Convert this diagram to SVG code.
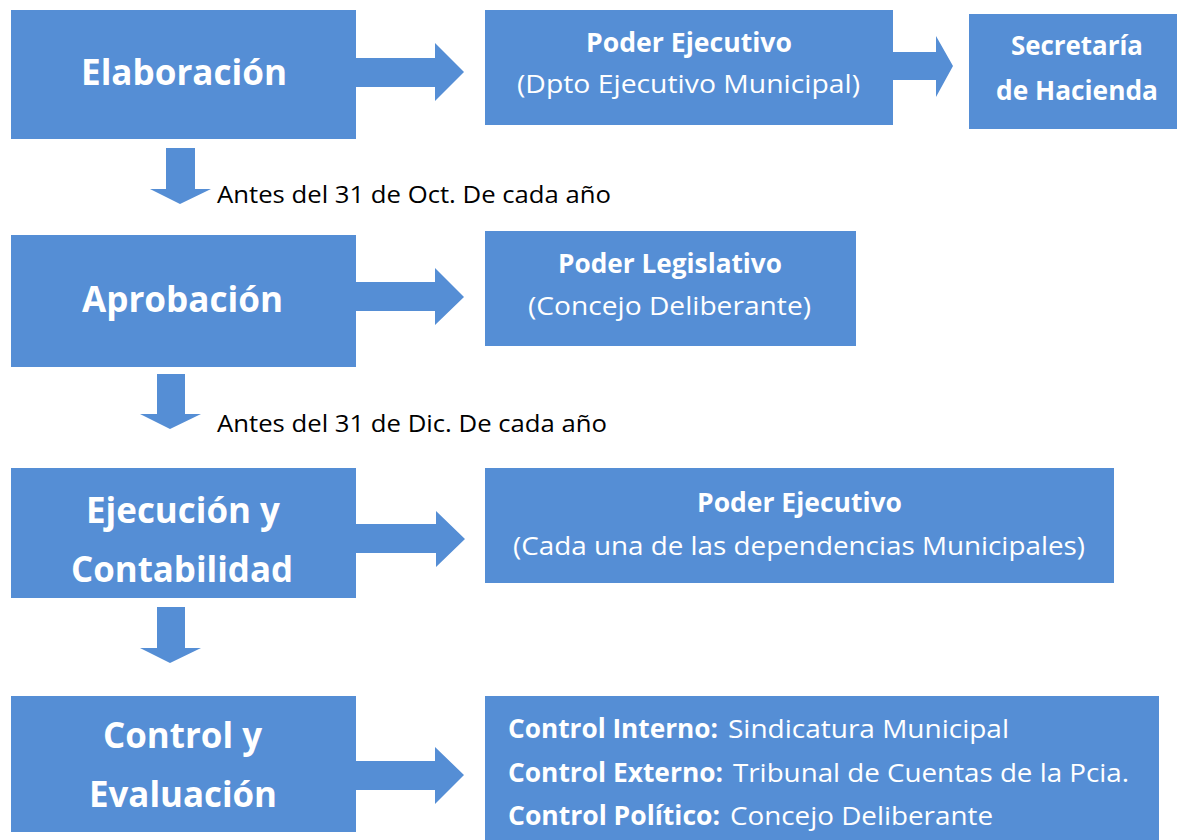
<svg xmlns="http://www.w3.org/2000/svg" width="1177" height="840" viewBox="0 0 1177 840">
<style>
.box{fill:#558ED5;}
.arr{fill:#558ED5;}
text{font-family:"Open Sans","Noto Sans","Liberation Sans",sans-serif;}
.big{font-size:35px;font-weight:bold;fill:#fff;}
.hd{font-size:26px;font-weight:bold;fill:#fff;}
.rg{font-size:25px;fill:#fff;}
.sec{font-size:26px;font-weight:bold;fill:#fff;}
.lbl{font-size:24px;fill:#000;}
</style>
<rect width="1177" height="840" fill="#fff"/>
<g id="connectors">
<polygon class="arr" points="356,58 435,58 435,43 464,72 435,101 435,87 356,87"/>
<polygon class="arr" points="893,52 936,52 936,36 953,66 936,97 936,80 893,80"/>
<polygon class="arr" points="356,282 435,282 435,268 464,297 435,325 435,311 356,311"/>
<polygon class="arr" points="356,524 436,524 436,511 465,539 436,567 436,553 356,553"/>
<polygon class="arr" points="356,761 435,761 435,747 464,775 435,804 435,790 356,790"/>
<polygon class="arr" points="166,148 195,148 195,189 211,189 180,204 150,189 166,189"/>
<polygon class="arr" points="157,374 185,374 185,414 201,414 170,429 140,414 157,414"/>
<polygon class="arr" points="157,607 185,607 185,648 201,648 170,663 140,648 157,648"/>
<text class="lbl" x="217" y="203" textLength="394" lengthAdjust="spacingAndGlyphs">Antes del 31 de Oct. De cada año</text>
<text class="lbl" x="217" y="432" textLength="390" lengthAdjust="spacingAndGlyphs">Antes del 31 de Dic. De cada año</text>
</g>
<g id="elaboracion">
<rect class="box" x="11" y="10" width="345" height="129"/>
<text class="big" x="81" y="85" textLength="206" lengthAdjust="spacingAndGlyphs">Elaboración</text>
</g>
<g id="poder-ejecutivo-1">
<rect class="box" x="485" y="10" width="408" height="115"/>
<text class="hd" x="586" y="52" textLength="206" lengthAdjust="spacingAndGlyphs">Poder Ejecutivo</text>
<text class="rg" x="517" y="93" textLength="343" lengthAdjust="spacingAndGlyphs">(Dpto Ejecutivo Municipal)</text>
</g>
<g id="secretaria">
<rect class="box" x="969" y="14" width="208" height="115"/>
<text class="sec" x="1011" y="55" textLength="132" lengthAdjust="spacingAndGlyphs">Secretaría</text>
<text class="sec" x="996" y="100" textLength="162" lengthAdjust="spacingAndGlyphs">de Hacienda</text>
</g>
<g id="aprobacion">
<rect class="box" x="11" y="235" width="345" height="132"/>
<text class="big" x="82" y="312" textLength="201" lengthAdjust="spacingAndGlyphs">Aprobación</text>
</g>
<g id="poder-legislativo">
<rect class="box" x="485" y="231" width="371" height="115"/>
<text class="hd" x="558" y="273" textLength="224" lengthAdjust="spacingAndGlyphs">Poder Legislativo</text>
<text class="rg" x="528" y="315" textLength="283" lengthAdjust="spacingAndGlyphs">(Concejo Deliberante)</text>
</g>
<g id="ejecucion">
<rect class="box" x="11" y="468" width="345" height="130"/>
<text class="big" x="86" y="523" textLength="194" lengthAdjust="spacingAndGlyphs">Ejecución y</text>
<text class="big" x="71" y="582" textLength="222" lengthAdjust="spacingAndGlyphs">Contabilidad</text>
</g>
<g id="poder-ejecutivo-2">
<rect class="box" x="485" y="468" width="629" height="115"/>
<text class="hd" x="697" y="512" textLength="205" lengthAdjust="spacingAndGlyphs">Poder Ejecutivo</text>
<text class="rg" x="513" y="555" textLength="572" lengthAdjust="spacingAndGlyphs">(Cada una de las dependencias Municipales)</text>
</g>
<g id="control">
<rect class="box" x="11" y="696" width="345" height="136"/>
<text class="big" x="103" y="748" textLength="159" lengthAdjust="spacingAndGlyphs">Control y</text>
<text class="big" x="89" y="807" textLength="188" lengthAdjust="spacingAndGlyphs">Evaluación</text>
</g>
<g id="control-detalle">
<rect class="box" x="485" y="696" width="674" height="144"/>
<text class="hd" x="508" y="738" textLength="210" lengthAdjust="spacingAndGlyphs">Control Interno:</text>
<text class="rg" x="728" y="738" textLength="281" lengthAdjust="spacingAndGlyphs">Sindicatura Municipal</text>
<text class="hd" x="508" y="782" textLength="215" lengthAdjust="spacingAndGlyphs">Control Externo:</text>
<text class="rg" x="733" y="782" textLength="396" lengthAdjust="spacingAndGlyphs">Tribunal de Cuentas de la Pcia.</text>
<text class="hd" x="508" y="825" textLength="212" lengthAdjust="spacingAndGlyphs">Control Político:</text>
<text class="rg" x="730" y="825" textLength="263" lengthAdjust="spacingAndGlyphs">Concejo Deliberante</text>
</g>
</svg>
